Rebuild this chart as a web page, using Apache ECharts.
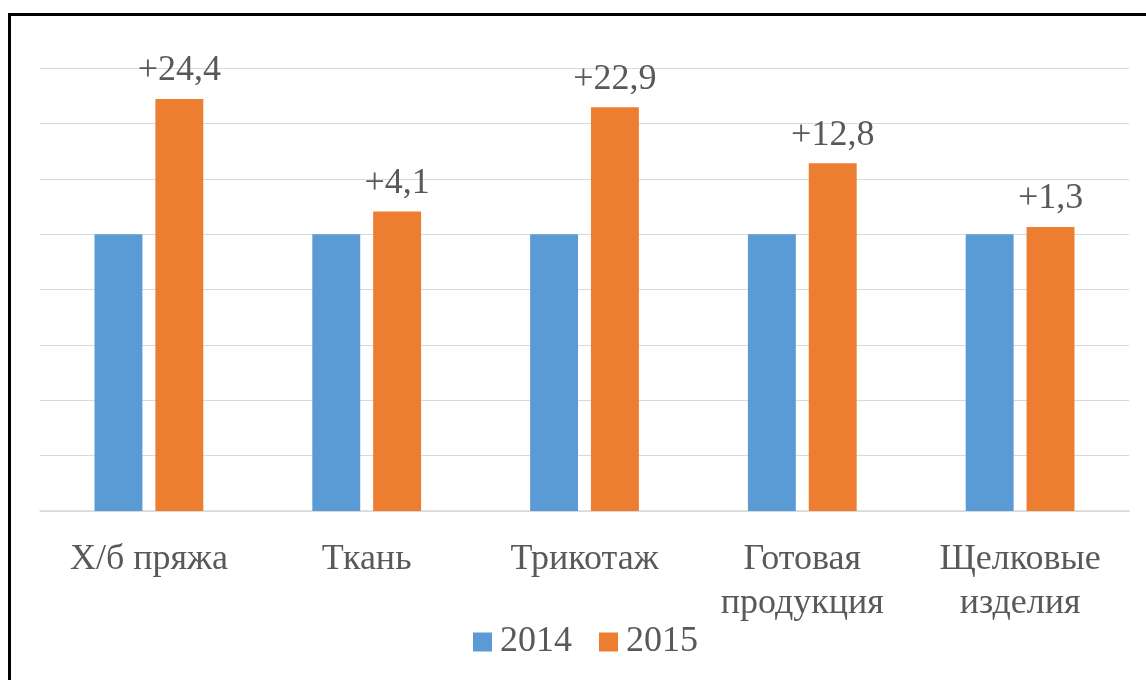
<!DOCTYPE html>
<html>
<head>
<meta charset="utf-8">
<script src="https://cdn.jsdelivr.net/npm/echarts@6/dist/echarts.min.js"></script>
<style>
  html, body { margin: 0; padding: 0; background: #fff; }
  .wrap { position: relative; width: 1146px; height: 680px; overflow: hidden; }
  .frame {
    position: absolute; left: 8px; top: 13px; width: 1200px; height: 720px;
    border-left: 3px solid #000; border-top: 3px solid #000;
  }
  #chart { position: absolute; left: 0; top: 0; width: 1146px; height: 680px; }
</style>
</head>
<body>
<div class="wrap">
  <div class="frame"></div>
  <div id="chart"></div>
</div>
<script>
const categories = ["Х/б пряжа", "Ткань", "Трикотаж", "Готовая\nпродукция", "Щелковые\nизделия"];
const values2014 = [100, 100, 100, 100, 100];
const values2015 = [124.4, 104.1, 122.9, 112.8, 101.3];
const growthLabels = ["+24,4", "+4,1", "+22,9", "+12,8", "+1,3"];

const font = "'Liberation Serif', 'Times New Roman', serif";
const textColor = "#595959";

let chart = echarts.init(document.getElementById("chart"));
chart.setOption({
  animation: false,
  textStyle: { fontFamily: font },
  grid: { left: 40, right: 17, top: 68, bottom: 169, containLabel: false },
  legend: {
    top: 619,
    left: 468,
    itemWidth: 19,
    itemHeight: 19,
    itemGap: 27,
    icon: "rect",
    textStyle: { fontFamily: font, fontSize: 36, color: textColor, padding: [0, 0, 0, 3] },
    data: ["2014", "2015"]
  },
  xAxis: {
    type: "category",
    data: categories,
    axisTick: { show: false },
    axisLine: { lineStyle: { color: "#d9d9d9", width: 1.5 } },
    axisLabel: {
      interval: 0,
      margin: 27,
      fontFamily: font,
      fontSize: 36,
      lineHeight: 44,
      color: textColor
    }
  },
  yAxis: {
    type: "value",
    min: 50,
    max: 130,
    interval: 10,
    axisLabel: { show: false },
    axisLine: { show: false },
    axisTick: { show: false },
    splitLine: { lineStyle: { color: "#d9d9d9", width: 1.2 } }
  },
  series: [
    {
      name: "2014",
      type: "bar",
      data: values2014,
      barWidth: "22%",
      barGap: "27%",
      itemStyle: { color: "#5b9bd5" }
    },
    {
      name: "2015",
      type: "bar",
      data: values2015,
      barWidth: "22%",
      itemStyle: { color: "#ed7d31" },
      label: {
        show: true,
        position: "top",
        distance: 10,
        fontFamily: font,
        fontSize: 36,
        color: textColor,
        formatter: p => growthLabels[p.dataIndex]
      }
    }
  ]
});
</script>
</body>
</html>
